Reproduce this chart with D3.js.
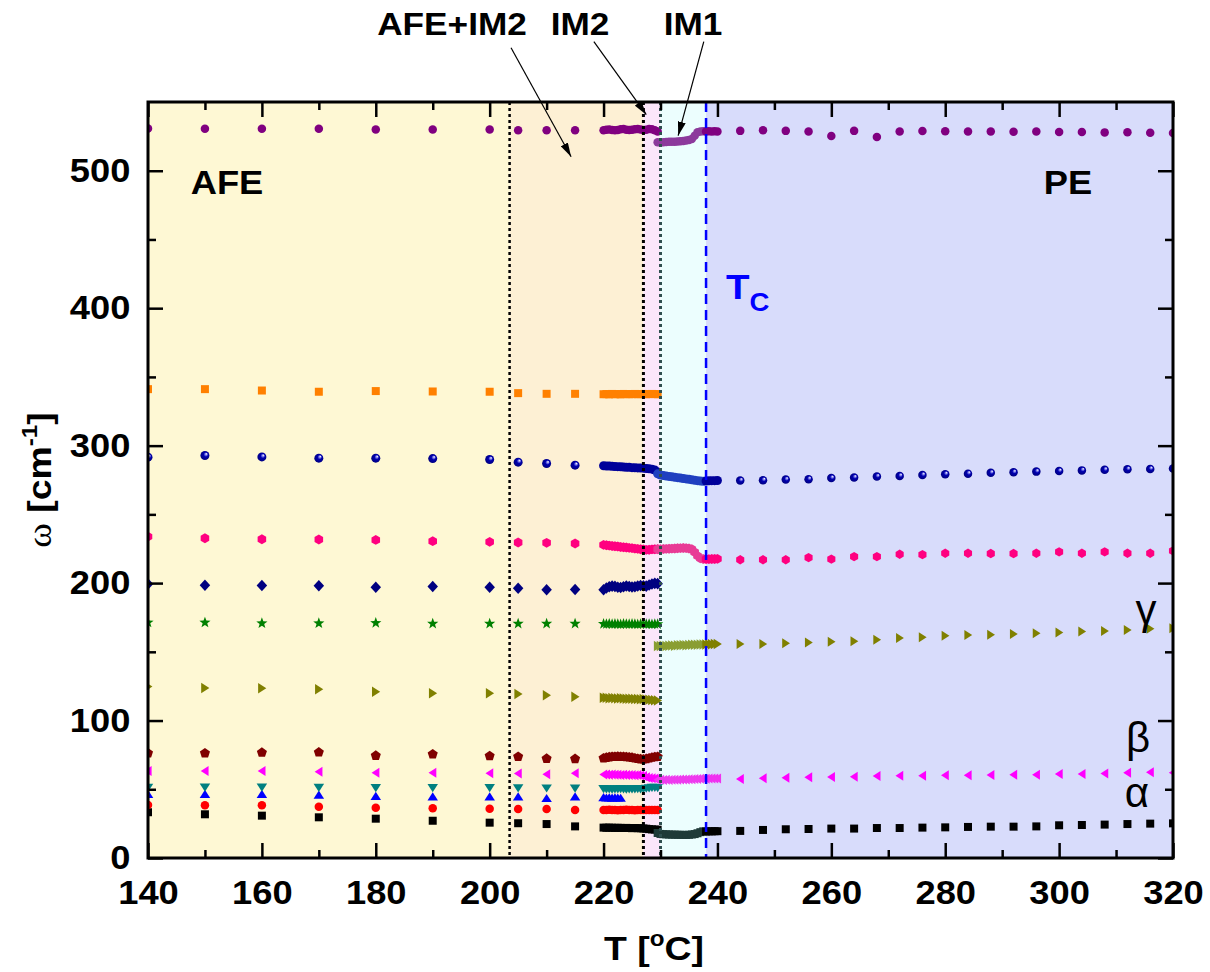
<!DOCTYPE html>
<html>
<head>
<meta charset="utf-8">
<script src="https://cdn.jsdelivr.net/npm/d3@7"></script>
<style>
  html, body { margin: 0; padding: 0; background: #ffffff; }
  svg { display: block; }
  text { font-family: "Liberation Sans", Arial, sans-serif; }
</style>
</head>
<body>
<svg id="chart" width="1210" height="972"></svg>
<script>
// ---------------- temperature grids ----------------
const tAFE      = [140, 150, 160, 170, 180, 190, 200, 205, 210, 215];
const tAFEDense = [220, 220.5, 221, 221.5, 222, 222.5, 223, 223.5, 224, 224.5,
                   225, 225.5, 226, 226.5, 227, 227.5, 228, 228.5, 229, 229.5];
const tBlueTriDense = [220, 220.5, 221, 221.5, 222, 222.5, 223];
const tIM1      = [229.5, 230, 230.5, 231, 231.5, 232, 232.5, 233, 233.5, 234,
                   234.5, 235, 235.5, 236, 236.5, 237, 237.5];
const tPEDense  = [238, 238.5, 239, 239.5, 240];
const tPE       = [244, 248, 252, 256, 260, 264, 268, 272, 276, 280,
                   284, 288, 292, 296, 300, 304, 308, 312, 316, 320];

// ---------------- mode frequencies (cm^-1) ----------------
// alpha mode (black squares)
const alphaAFE      = [33.3, 31.8, 30.8, 29.6, 28.6, 27.1, 25.7, 25.3, 24.7, 23.0];
const alphaAFEDense = [22.1, 22.0, 22.1, 22.0, 21.9, 22.0, 21.9, 21.8, 21.9, 21.8,
                       21.7, 21.8, 21.7, 21.6, 21.5, 21.3, 21.0, 20.8, 20.7, 20.6];
const alphaIM1      = [18.2, 17.5, 17.3, 17.2, 17.1, 17.0, 17.0, 16.9, 16.9, 16.8,
                       16.8, 16.9, 17.1, 17.4, 18.0, 18.8, 19.4];
const alphaPEDense  = [19.3, 19.4, 19.4, 19.5, 19.5];
const alphaPE       = [19.7, 20.4, 20.9, 21.1, 21.4, 21.4, 21.8, 21.8, 22.1, 22.3,
                       22.6, 22.8, 22.8, 23.0, 23.8, 24.0, 24.3, 24.7, 25.0, 25.2];
// red circles
const redAFE      = [38.6, 38.3, 38.3, 37.3, 36.6, 36.2, 35.9, 35.7, 35.7, 34.9];
const redAFEDense = [35.0, 34.9, 35.1, 34.9, 35.0, 34.8, 35.0, 34.9, 35.1, 34.9,
                     35.0, 34.8, 34.9, 35.0, 34.9, 35.0, 34.9, 35.0, 34.9, 35.0];
// blue up-triangles
const blueTriAFE   = [46.4, 46.4, 46.4, 45.9, 44.9, 44.6, 44.6, 44.6, 43.4, 44.6];
const blueTriDense = [44.0, 43.8, 43.9, 43.7, 43.9, 43.8, 43.6];
// teal down-triangles
const tealAFE      = [51.3, 51.4, 51.4, 51.2, 51.1, 51.1, 51.0, 50.9, 50.8, 50.7];
const tealAFEDense = [50.3, 50.1, 50.2, 50.0, 50.2, 50.1, 50.3, 50.2, 50.0, 50.1,
                      50.2, 50.1, 50.3, 50.2, 50.4, 50.6, 50.9, 51.2, 51.3, 51.0];
// beta mode (magenta left-triangles)
const betaAFE      = [63.3, 63.3, 63.3, 62.8, 62.1, 62.1, 61.6, 61.4, 60.9, 61.6];
const betaAFEDense = [60.8, 60.7, 60.6, 60.7, 60.5, 60.6, 60.4, 60.5, 60.4, 60.3,
                      60.4, 60.2, 60.3, 60.1, 59.6, 58.8, 58.2, 58.0, 57.9, 57.8];
const betaIM1      = [57.0, 56.9, 56.8, 56.9, 56.8, 56.9, 57.0, 57.0, 57.1, 57.1,
                      57.2, 57.3, 57.3, 57.4, 57.5, 57.6, 57.7];
const betaPEDense  = [57.7, 57.8, 57.8, 57.9, 57.9];
const betaPE       = [57.5, 58.0, 58.4, 58.7, 59.0, 59.2, 59.7, 59.9, 59.9, 60.2,
                      60.2, 60.4, 60.6, 60.6, 61.1, 61.1, 61.4, 62.1, 62.3, 62.1];
// dark red pentagons
const pentaAFE      = [76.2, 76.2, 76.7, 76.9, 74.5, 75.5, 74.2, 73.7, 72.3, 72.1];
const pentaAFEDense = [72.6, 73.0, 73.4, 73.6, 73.7, 73.8, 73.7, 73.6, 73.5, 73.3,
                       73.0, 72.6, 72.2, 71.9, 71.8, 72.1, 72.6, 73.1, 73.5, 73.6];
// gamma mode (olive right-triangles)
const gammaAFE      = [124.7, 123.7, 123.5, 122.8, 121.0, 119.9, 119.9, 119.4, 118.4, 117.4];
const gammaAFEDense = [116.6, 116.5, 116.3, 116.4, 116.2, 116.1, 116.2, 116.0, 115.9, 115.8,
                       115.9, 115.7, 115.6, 115.5, 115.6, 115.4, 115.2, 115.0, 114.8, 114.6];
const gammaIM1      = [154.2, 154.3, 154.4, 154.3, 154.5, 154.6, 154.5, 154.7, 154.8, 154.9,
                       154.8, 155.0, 155.1, 155.2, 155.2, 155.3, 155.4];
const gammaPEDense  = [155.4, 155.5, 155.5, 155.6, 155.6];
const gammaPE       = [155.7, 155.7, 156.3, 156.7, 157.4, 157.7, 158.7, 160.1, 160.6, 161.6,
                       162.3, 162.5, 163.0, 163.5, 164.0, 164.7, 165.2, 165.9, 166.7, 167.2];
// green stars
const starAFE      = [171.3, 171.3, 170.8, 170.8, 171.0, 170.5, 170.5, 170.5, 170.5, 170.5];
const starAFEDense = [170.3, 170.2, 170.4, 170.1, 170.3, 170.2, 170.0, 170.3, 170.2, 170.1,
                      170.3, 170.2, 170.0, 170.2, 170.3, 170.1, 170.2, 170.0, 170.2, 170.1];
// navy diamonds
const diamondAFE      = [199.4, 198.4, 198.2, 198.0, 197.0, 197.5, 197.0, 196.3, 195.1, 195.3];
const diamondAFEDense = [195.2, 196.4, 197.3, 197.8, 197.6, 197.0, 196.8, 197.4, 197.9, 197.5,
                         197.1, 197.3, 197.9, 198.3, 198.0, 197.8, 198.6, 199.4, 199.8, 199.6];
// pink hexagons
const pinkAFE      = [233.8, 232.6, 231.9, 231.7, 231.4, 230.5, 230.0, 229.5, 229.3, 228.8];
const pinkAFEDense = [227.8, 227.5, 227.3, 227.0, 226.8, 226.6, 226.3, 226.1, 225.9, 225.6,
                      225.4, 225.1, 224.9, 224.6, 224.4, 224.2, 224.3, 224.5, 224.6, 224.7];
const pinkIM1      = [224.6, 224.7, 224.8, 224.9, 225.0, 225.1, 225.2, 225.3, 225.4, 225.5,
                      225.4, 225.2, 224.6, 222.5, 219.8, 218.0, 217.5];
const pinkPEDense  = [217.4, 217.4, 217.5, 217.5, 217.6];
const pinkPE       = [217.0, 217.0, 217.0, 218.5, 217.4, 219.3, 219.3, 221.0, 220.7, 221.7,
                      221.7, 221.5, 221.5, 221.7, 222.7, 221.7, 222.7, 221.7, 221.7, 223.4];
// blue spheres
const sphereAFE      = [291.6, 292.8, 291.8, 290.9, 290.9, 290.6, 289.9, 288.0, 287.0, 285.8];
const sphereAFEDense = [285.4, 285.2, 285.1, 285.0, 284.8, 284.7, 284.6, 284.4, 284.3, 284.2,
                        284.0, 283.9, 283.8, 283.7, 283.6, 283.4, 283.2, 282.9, 282.3, 280.8];
const sphereIM1      = [279.5, 278.6, 278.2, 277.9, 277.6, 277.3, 277.0, 276.7, 276.4, 276.1,
                        275.8, 275.5, 275.1, 274.8, 274.5, 274.2, 274.0];
const spherePEDense  = [274.3, 274.4, 274.5, 274.5, 274.6];
const spherePE       = [274.6, 274.8, 275.3, 275.6, 276.4, 276.8, 277.5, 277.9, 278.6, 279.2,
                        279.6, 280.2, 280.6, 281.1, 281.5, 282.0, 282.4, 282.8, 283.0, 283.4];
// orange squares
const orangeAFE      = [341.1, 341.1, 340.1, 339.2, 339.7, 339.4, 339.2, 338.2, 337.7, 337.7];
const orangeAFEDense = [337.4, 337.5, 337.3, 337.6, 337.4, 337.5, 337.3, 337.6, 337.5, 337.4,
                        337.5, 337.6, 337.4, 337.5, 337.6, 337.4, 337.5, 337.6, 337.5, 337.4];
// purple circles
const purpleAFE      = [530.7, 530.5, 530.5, 530.5, 530.0, 530.0, 530.0, 529.5, 529.5, 529.5];
const purpleAFEDense = [529.5, 529.8, 530.0, 529.6, 529.4, 529.7, 530.1, 530.3, 529.9, 529.6,
                        529.8, 530.2, 530.4, 530.0, 529.7, 529.9, 530.3, 530.1, 529.4, 528.6];
const purpleIM1      = [520.8, 520.6, 520.7, 520.9, 521.0, 521.1, 521.0, 521.2, 521.4, 521.6,
                        522.0, 522.4, 523.0, 525.5, 528.0, 528.6, 528.7];
const purplePEDense  = [528.6, 528.7, 528.6, 528.7, 528.6];
const purplePE       = [529.0, 529.4, 529.0, 528.6, 525.3, 529.0, 524.6, 528.5, 528.9, 528.8,
                        528.5, 528.6, 528.4, 528.5, 528.1, 528.2, 527.9, 528.0, 527.6, 527.5];

// ---------------- phase regions and boundaries ----------------
const regionStart = [140, 203.5, 227, 230, 238];
const regionEnd   = [203.5, 227, 230, 238, 320];
const boundaryT   = [203.5, 227, 230, 238];

// ---------------- axis ticks ----------------
const xMajorTicks = [140, 160, 180, 200, 220, 240, 260, 280, 300, 320];
const xMinorTicks = [150, 170, 190, 210, 230, 250, 270, 290, 310];
const yMajorTicks = [0, 100, 200, 300, 400, 500];
const yMinorTicks = [50, 150, 250, 350, 450];

// ---------------- layout ----------------
const L = 148, R = 1173, T = 102, B = 858;
const svg = d3.select("#chart");
const x = d3.scaleLinear().domain([140, 320]).range([L, R]);
const y = d3.scaleLinear().domain([0, 550]).range([B, T]);
const STRETCH = 1.1;   // labels are set slightly wide

const defs = svg.append("defs");
defs.append("clipPath").attr("id", "plotClip")
  .append("rect").attr("x", L).attr("y", T).attr("width", R - L).attr("height", B - T);

function sphereGradient(id, base, dark) {
  const g = defs.append("radialGradient").attr("id", id)
    .attr("cx", "50%").attr("cy", "50%").attr("r", "55%")
    .attr("fx", "68%").attr("fy", "30%");
  g.append("stop").attr("offset", "0%").attr("stop-color", "#ffffff");
  g.append("stop").attr("offset", "22%").attr("stop-color", "#7d7de8");
  g.append("stop").attr("offset", "45%").attr("stop-color", base);
  g.append("stop").attr("offset", "100%").attr("stop-color", dark);
}
sphereGradient("sphereAFE", "#0000b0", "#00007a");

defs.append("marker").attr("id", "arrowHead")
  .attr("viewBox", "0 0 14 8").attr("refX", 14).attr("refY", 4)
  .attr("markerWidth", 14).attr("markerHeight", 8)
  .attr("markerUnits", "userSpaceOnUse").attr("orient", "auto")
  .append("path").attr("d", "M0,0 L14,4 L0,8 Z").attr("fill", "#000");

// ---------------- background bands ----------------
const regionColor = ["#fef8d4", "#fdf0d4", "#fbe6fa", "#ecfefe", "#d8dcfb"];
svg.append("g").selectAll("rect")
  .data(d3.range(regionStart.length)).join("rect")
  .attr("x", i => x(regionStart[i]))
  .attr("y", T)
  .attr("width", i => x(regionEnd[i]) - x(regionStart[i]))
  .attr("height", B - T)
  .attr("fill", i => regionColor[i]);

// ---------------- marker shapes ----------------
function poly(pts) {
  return "M" + pts.map(p => p[0].toFixed(2) + "," + p[1].toFixed(2)).join("L") + "Z";
}
function regular(n, r, rot) {
  return d3.range(n).map(k => {
    const a = rot + 2 * Math.PI * k / n;
    return [r * Math.sin(a), -r * Math.cos(a)];
  });
}
function markerPath(shape, s) {
  const h = s / 2;
  switch (shape) {
    case "square":  return poly([[-h, -h], [h, -h], [h, h], [-h, h]]);
    case "circle":
    case "sphere":  return `M${h},0A${h},${h} 0 1,1 ${-h},0A${h},${h} 0 1,1 ${h},0Z`;
    case "triUp":   return poly([[0, -0.42 * s], [0.5 * s, 0.36 * s], [-0.5 * s, 0.36 * s]]);
    case "triDown": return poly([[0, 0.42 * s], [0.5 * s, -0.36 * s], [-0.5 * s, -0.36 * s]]);
    case "triLeft": return poly([[-0.42 * s, 0], [0.36 * s, -0.5 * s], [0.36 * s, 0.5 * s]]);
    case "triRight":return poly([[0.42 * s, 0], [-0.36 * s, -0.5 * s], [-0.36 * s, 0.5 * s]]);
    case "pentagon":return poly(regular(5, 0.53 * s, 0));
    case "hexagon": return poly(regular(6, 0.52 * s, 0));
    case "diamond": return poly([[0, -0.55 * s], [0.5 * s, 0], [0, 0.55 * s], [-0.5 * s, 0]]);
    case "star": {
      const pts = [];
      for (let k = 0; k < 10; k++) {
        const r = k % 2 === 0 ? 0.56 * s : 0.23 * s;
        const a = Math.PI * k / 5;
        pts.push([r * Math.sin(a), -r * Math.cos(a)]);
      }
      return poly(pts);
    }
  }
}

const dataLayer = svg.append("g").attr("clip-path", "url(#plotClip)");
function drawSeries(t, v, shape, fill, size) {
  dataLayer.append("g").selectAll("path")
    .data(d3.zip(t, v)).join("path")
    .attr("transform", d => `translate(${x(d[0]).toFixed(2)},${y(d[1]).toFixed(2)})`)
    .attr("d", markerPath(shape, size))
    .attr("fill", fill);
}

// alpha
drawSeries(tAFE, alphaAFE, "square", "#000000", 8);
drawSeries(tAFEDense, alphaAFEDense, "square", "#000000", 8);
drawSeries(tIM1, alphaIM1, "square", "#1f3a38", 8);
drawSeries(tPEDense, alphaPEDense, "square", "#000000", 8);
drawSeries(tPE, alphaPE, "square", "#000000", 8);
// red
drawSeries(tAFE, redAFE, "circle", "#ff0000", 8.5);
drawSeries(tAFEDense, redAFEDense, "circle", "#ff0000", 8.5);
// blue triangles
drawSeries(tAFE, blueTriAFE, "triUp", "#0000ff", 10.5);
drawSeries(tBlueTriDense, blueTriDense, "triUp", "#0000ff", 10.5);
// teal
drawSeries(tAFE, tealAFE, "triDown", "#008080", 10.5);
drawSeries(tAFEDense, tealAFEDense, "triDown", "#008080", 10.5);
// beta
drawSeries(tAFE, betaAFE, "triLeft", "#ff00ff", 10);
drawSeries(tAFEDense, betaAFEDense, "triLeft", "#ff00ff", 10);
drawSeries(tIM1, betaIM1, "triLeft", "#ee3cee", 10);
drawSeries(tPEDense, betaPEDense, "triLeft", "#f030f0", 10);
drawSeries(tPE, betaPE, "triLeft", "#ff00ff", 10);
// pentagons
drawSeries(tAFE, pentaAFE, "pentagon", "#800000", 10);
drawSeries(tAFEDense, pentaAFEDense, "pentagon", "#800000", 10);
// gamma
drawSeries(tAFE, gammaAFE, "triRight", "#808000", 10.5);
drawSeries(tAFEDense, gammaAFEDense, "triRight", "#808000", 10.5);
drawSeries(tIM1, gammaIM1, "triRight", "#8a9e32", 10.5);
drawSeries(tPEDense, gammaPEDense, "triRight", "#808000", 10.5);
drawSeries(tPE, gammaPE, "triRight", "#808000", 10);
// stars
drawSeries(tAFE, starAFE, "star", "#008000", 10.5);
drawSeries(tAFEDense, starAFEDense, "star", "#008000", 10.5);
// diamonds
drawSeries(tAFE, diamondAFE, "diamond", "#000080", 10.5);
drawSeries(tAFEDense, diamondAFEDense, "diamond", "#000080", 10.5);
// pink
drawSeries(tAFE, pinkAFE, "hexagon", "#ff0080", 9.5);
drawSeries(tAFEDense, pinkAFEDense, "hexagon", "#ff0080", 9.5);
drawSeries(tIM1, pinkIM1, "hexagon", "#e83c96", 9.5);
drawSeries(tPEDense, pinkPEDense, "hexagon", "#ff0080", 9.5);
drawSeries(tPE, pinkPE, "hexagon", "#ff0080", 9);
// spheres
drawSeries(tAFE, sphereAFE, "sphere", "url(#sphereAFE)", 9);
drawSeries(tAFEDense, sphereAFEDense, "sphere", "#00009a", 9);
drawSeries(tIM1, sphereIM1, "sphere", "#2040c0", 9);
drawSeries(tPEDense, spherePEDense, "sphere", "#00009a", 9);
drawSeries(tPE, spherePE, "sphere", "url(#sphereAFE)", 8.5);
// orange
drawSeries(tAFE, orangeAFE, "square", "#ff8000", 8);
drawSeries(tAFEDense, orangeAFEDense, "square", "#ff8000", 8);
// purple
drawSeries(tAFE, purpleAFE, "circle", "#800080", 8.5);
drawSeries(tAFEDense, purpleAFEDense, "circle", "#800080", 8.5);
drawSeries(tIM1, purpleIM1, "circle", "#8c3a9c", 8.5);
drawSeries(tPEDense, purplePEDense, "circle", "#800080", 8.5);
drawSeries(tPE, purplePE, "circle", "#800080", 8.5);

// ---------------- phase boundaries ----------------
const boundaryColor = ["#000000", "#000000", "#2f4f4f", "#0000ff"];
const boundaryDash  = ["3,3", "3,3", "3,3", "10,6"];
const boundaryWidth = [2.5, 3, 3, 2.5];
svg.append("g").selectAll("line")
  .data(d3.range(boundaryT.length)).join("line")
  .attr("x1", i => x(boundaryT[i])).attr("x2", i => x(boundaryT[i]))
  .attr("y1", T).attr("y2", B)
  .attr("stroke", i => boundaryColor[i])
  .attr("stroke-width", i => boundaryWidth[i])
  .attr("stroke-dasharray", i => boundaryDash[i]);

// ---------------- axes ----------------
const tickFont = 33;
function styleAxis(g) {
  g.select(".domain").remove();
  g.selectAll("line").attr("stroke", "#000").attr("stroke-width", 2.5);
}
function styleLabels(g) {
  g.selectAll("text")
    .attr("font-size", tickFont).attr("font-weight", "bold").attr("fill", "#000")
    .attr("font-family", "Liberation Sans, Arial, sans-serif")
    .attr("transform", `scale(${STRETCH},1)`);
}
// bottom
svg.append("g").attr("transform", `translate(0,${B})`)
  .call(d3.axisBottom(x).tickValues(xMajorTicks).tickSize(-15).tickPadding(23).tickFormat(d3.format("d")))
  .call(styleAxis).call(styleLabels);
svg.append("g").attr("transform", `translate(0,${B})`)
  .call(d3.axisBottom(x).tickValues(xMinorTicks).tickSize(-8).tickFormat(""))
  .call(styleAxis);
// top
svg.append("g").attr("transform", `translate(0,${T})`)
  .call(d3.axisTop(x).tickValues(xMajorTicks).tickSize(-15).tickFormat(""))
  .call(styleAxis);
svg.append("g").attr("transform", `translate(0,${T})`)
  .call(d3.axisTop(x).tickValues(xMinorTicks).tickSize(-8).tickFormat(""))
  .call(styleAxis);
// left
svg.append("g").attr("transform", `translate(${L},0)`)
  .call(d3.axisLeft(y).tickValues(yMajorTicks).tickSize(-15).tickPadding(16).tickFormat(d3.format("d")))
  .call(styleAxis).call(styleLabels);
svg.append("g").attr("transform", `translate(${L},0)`)
  .call(d3.axisLeft(y).tickValues(yMinorTicks).tickSize(-8).tickFormat(""))
  .call(styleAxis);
// right
svg.append("g").attr("transform", `translate(${R},0)`)
  .call(d3.axisRight(y).tickValues(yMajorTicks).tickSize(-15).tickFormat(""))
  .call(styleAxis);
svg.append("g").attr("transform", `translate(${R},0)`)
  .call(d3.axisRight(y).tickValues(yMinorTicks).tickSize(-8).tickFormat(""))
  .call(styleAxis);

// frame
svg.append("rect").attr("x", L).attr("y", T).attr("width", R - L).attr("height", B - T)
  .attr("fill", "none").attr("stroke", "#000").attr("stroke-width", 3);

// ---------------- labels ----------------
function label(px, py, str, opts = {}) {
  const t = svg.append("text")
    .attr("transform", `translate(${px},${py}) scale(${opts.stretch ?? STRETCH},1)`)
    .attr("font-size", opts.size ?? 33)
    .attr("font-weight", opts.weight ?? "bold")
    .attr("fill", opts.color ?? "#000")
    .attr("text-anchor", opts.anchor ?? "middle");
  if (opts.family) t.attr("font-family", opts.family);
  t.text(str);
  return t;
}

// axis titles
const xTitle = svg.append("text")
  .attr("transform", `translate(654,960) scale(${STRETCH},1)`)
  .attr("text-anchor", "middle").attr("font-size", 34).attr("font-weight", "bold");
xTitle.append("tspan").text("T [");
xTitle.append("tspan").attr("font-size", 22).attr("dy", -14).text("o");
xTitle.append("tspan").attr("dy", 14).text("C]");

const yTitle = svg.append("text")
  .attr("transform", `translate(51,480) rotate(-90) scale(${STRETCH},1)`)
  .attr("text-anchor", "middle").attr("font-size", 34).attr("font-weight", "bold");
yTitle.append("tspan").attr("font-family", "Liberation Serif, Times New Roman, serif")
  .attr("font-weight", "normal").text("ω");
yTitle.append("tspan").text(" [cm");
yTitle.append("tspan").attr("font-size", 22).attr("dy", -14).text("-1");
yTitle.append("tspan").attr("dy", 14).text("]");

// phase names
label(x(147.5), 194, "AFE", { size: 33, anchor: "start" });
label(x(297.3), 194, "PE", { size: 33, anchor: "start" });
const tc = svg.append("text")
  .attr("transform", `translate(${x(238) + 20},299) scale(${STRETCH},1)`)
  .attr("font-size", 35).attr("font-weight", "bold").attr("fill", "#0000ff");
tc.append("tspan").text("T");
tc.append("tspan").attr("font-size", 25).attr("dy", 12).text("C");

// mode names
const greekFont = "Liberation Serif, Times New Roman, serif";
label(1146, 624, "γ", { size: 42, weight: "normal", family: greekFont, stretch: 1 });
label(1138, 752, "β", { size: 42, weight: "normal", family: greekFont, stretch: 1 });
label(1137, 807, "α", { size: 42, weight: "normal", family: greekFont, stretch: 1 });

// phase annotations above the frame
label(452, 35, "AFE+IM2", { size: 32 });
label(580, 35, "IM2", { size: 32 });
label(693, 35, "IM1", { size: 32 });

const arrowFrom = [[203.75, 589.5], [218.3, 593.9], [237.6, 593.9]];
const arrowTo   = [[214.3, 510.2], [227.5, 540.8], [233.1, 525.5]];
svg.append("g").selectAll("line")
  .data(d3.range(arrowFrom.length)).join("line")
  .attr("x1", i => x(arrowFrom[i][0])).attr("y1", i => y(arrowFrom[i][1]))
  .attr("x2", i => x(arrowTo[i][0])).attr("y2", i => y(arrowTo[i][1]))
  .attr("stroke", "#000").attr("stroke-width", 1.2)
  .attr("marker-end", "url(#arrowHead)");
</script>
</body>
</html>
